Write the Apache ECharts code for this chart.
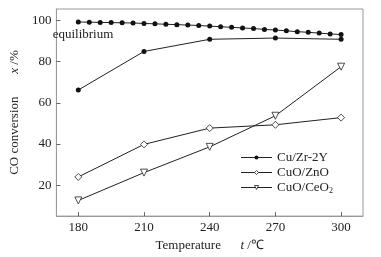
<!DOCTYPE html>
<html>
<head>
<meta charset="utf-8">
<script src="https://cdn.jsdelivr.net/npm/echarts@6/dist/echarts.min.js"></script>
<style>
  html, body { margin: 0; padding: 0; background: #fff; }
  #chart { width: 381px; height: 257px; }
</style>
</head>
<body>
<div id="chart"></div>
<script>
// temperatures (℃)
const temps = [180, 210, 240, 270, 300]
const eqTemps = [180, 185, 190, 195, 200, 205, 210, 215, 220, 225, 230, 235, 240,
    245, 250, 255, 260, 265, 270, 275, 280, 285, 290, 295, 300]

// CO conversion (%)
const equilibrium = [99.2, 99.1, 99.0, 98.9, 98.8, 98.7, 98.5, 98.3, 98.1, 97.9, 97.7, 97.5, 97.2,
    96.9, 96.6, 96.3, 96.0, 95.6, 95.3, 94.9, 94.5, 94.2, 93.8, 93.4, 93.1]
const cuZr2Y = [66.2, 84.9, 90.8, 91.4, 90.8]
const cuoZnO = [24.0, 39.8, 47.7, 49.3, 52.8]
const cuoCeO2 = [12.6, 26.1, 38.6, 53.7, 77.5]

const yTicks = [20, 40, 60, 80, 100]
const xTicks = [180, 210, 240, 270, 300]

const font = 'Liberation Serif, Times New Roman, serif'
const lineColor = '#222'

const pair = (xs, ys) => xs.map((x, i) => [x, ys[i]])

const hollow = { color: '#fff', borderColor: lineColor, borderWidth: 0.8 }

const chart = echarts.init(document.getElementById('chart'), null, { renderer: 'canvas' })

const option = {
    animation: false,
    backgroundColor: '#fff',
    textStyle: { fontFamily: font, color: '#222' },
    grid: {
        left: 47, right: 18, top: 9, bottom: 38,
        show: true, borderColor: '#999', borderWidth: 1
    },
    legend: {
        right: 43, top: 146,
        orient: 'vertical',
        itemWidth: 31, itemHeight: 5, itemGap: 2,
        lineStyle: { width: 1 },
        data: [
            { name: 'Cu/Zr-2Y', itemStyle: { color: '#111' } },
            { name: 'CuO/ZnO', itemStyle: hollow },
            { name: 'CuO/CeO2', itemStyle: hollow }
        ],
        textStyle: {
            fontFamily: font, fontSize: 13, color: '#222',
            rich: {
                sub: { fontFamily: font, fontSize: 8, color: '#222', verticalAlign: 'bottom', padding: [6, 0, 0, 0] }
            }
        },
        formatter: name => name === 'CuO/CeO2' ? 'CuO/CeO{sub|2}' : name
    },
    xAxis: {
        type: 'value', min: 170, max: 310,
        name: 'Temperature      {i|t} /℃',
        nameLocation: 'middle', nameGap: 18,
        nameTextStyle: {
            fontFamily: font, fontSize: 13, color: '#222',
            rich: { i: { fontFamily: font, fontStyle: 'italic', fontSize: 13, color: '#222' } }
        },
        axisLine: { show: true, lineStyle: { color: '#999' } },
        axisTick: { inside: true, length: 4, customValues: xTicks, lineStyle: { color: '#666' } },
        axisLabel: { customValues: xTicks, fontFamily: font, fontSize: 13, color: '#222', margin: 5 },
        splitLine: { show: false }
    },
    yAxis: {
        type: 'value', min: 5, max: 105.5,
        name: 'CO conversion       {i|x} /%',
        nameLocation: 'middle', nameGap: 29, nameRotate: 90,
        nameTextStyle: {
            fontFamily: font, fontSize: 13, color: '#222',
            rich: { i: { fontFamily: font, fontStyle: 'italic', fontSize: 13, color: '#222' } }
        },
        axisLine: { show: true, lineStyle: { color: '#999' } },
        axisTick: { inside: true, length: 4, customValues: yTicks, lineStyle: { color: '#666' } },
        axisLabel: { customValues: yTicks, fontFamily: font, fontSize: 13, color: '#222', margin: 5 },
        splitLine: { show: false }
    },
    series: [
        {
            name: 'equilibrium', type: 'line',
            data: pair(eqTemps, equilibrium),
            symbol: 'circle', symbolSize: 5,
            itemStyle: { color: '#111' },
            lineStyle: { color: lineColor, width: 1 },
            markPoint: {
                symbol: 'rect', symbolSize: 0,
                data: [{ coord: [171.5, 93.2] }],
                label: { show: true, formatter: 'equilibrium', position: 'right', distance: 0, offset: [-7, 0], fontFamily: font, fontSize: 13, color: '#222' }
            }
        },
        {
            name: 'Cu/Zr-2Y', type: 'line',
            data: pair(temps, cuZr2Y),
            symbol: 'circle', symbolSize: 5,
            itemStyle: { color: '#111' },
            lineStyle: { color: lineColor, width: 1 }
        },
        {
            name: 'CuO/ZnO', type: 'line',
            data: pair(temps, cuoZnO),
            symbol: 'diamond', symbolSize: 7,
            itemStyle: hollow,
            lineStyle: { color: lineColor, width: 1 }
        },
        {
            name: 'CuO/CeO2', type: 'line',
            data: pair(temps, cuoCeO2),
            symbol: 'triangle', symbolRotate: 180, symbolSize: 7,
            itemStyle: hollow,
            lineStyle: { color: lineColor, width: 1 }
        }
    ]
}

chart.setOption(option)
</script>
</body>
</html>
